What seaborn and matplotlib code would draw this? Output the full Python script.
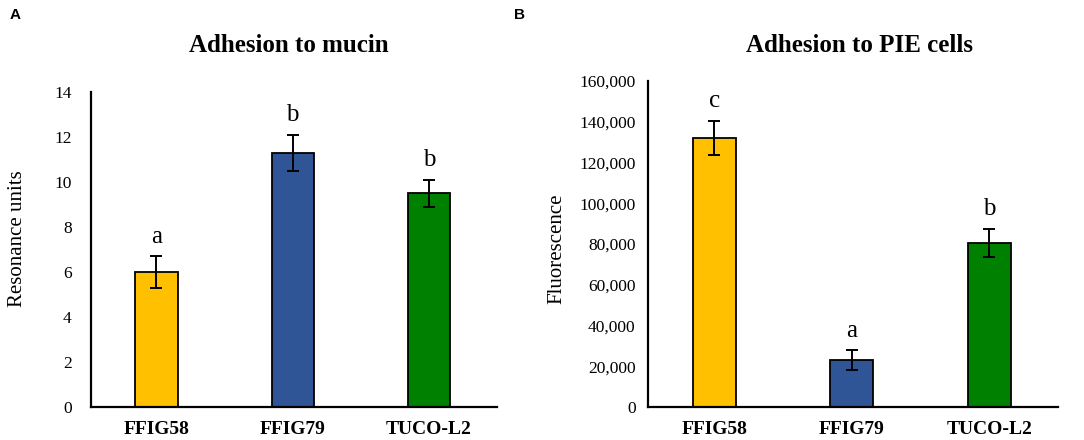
import pandas as pd
import matplotlib.pyplot as plt
import seaborn as sns

# data
strains = ['FFIG58', 'FFIG79', 'TUCO-L2']
mucin_mean = [6.0, 11.3, 9.5]
mucin_err = [0.7, 0.8, 0.6]
mucin_letters = ['a', 'b', 'b']
pie_mean = [132000, 23000, 80500]
pie_err = [8500, 4800, 7000]
pie_letters = ['c', 'a', 'b']
bar_colors = ['#FFC000', '#2F5597', '#008000']

sns.set_theme(style="white")
plt.rcParams['font.family'] = ['Liberation Serif', 'DejaVu Serif']
plt.rcParams['text.color'] = 'black'
plt.rcParams['axes.labelcolor'] = 'black'
plt.rcParams['xtick.color'] = 'black'
plt.rcParams['ytick.color'] = 'black'

fig = plt.figure(figsize=(10.84, 4.4), dpi=100)
ax_a = fig.add_axes([0.084, 0.075, 0.3745, 0.716])
ax_b = fig.add_axes([0.598, 0.075, 0.378, 0.741])


def draw_panel(ax, means, errs, letters, ymax, ystep, ylabel, fmt, ypad):
    df = pd.DataFrame({'strain': strains, 'value': means})
    sns.barplot(data=df, x='strain', y='value', hue='strain', palette=bar_colors,
                saturation=1, width=0.31, edgecolor='black', linewidth=1.3,
                legend=False, ax=ax)
    ax.errorbar(range(len(strains)), means, yerr=errs, fmt='none', ecolor='black',
                elinewidth=1.4, capsize=4, capthick=1.4)
    for i, (m, e, t) in enumerate(zip(means, errs, letters)):
        ax.annotate(t, (i, m + e), xytext=(0, 6), textcoords='offset points',
                    ha='center', va='bottom', fontsize=18)
    ax.set_ylim(0, ymax)
    ax.set_xlim(-0.48, 2.5)
    ticks = list(range(0, ymax + 1, ystep))
    ax.set_yticks(ticks)
    ax.set_yticklabels([fmt(v) for v in ticks], fontsize=12.5)
    ax.tick_params(axis='y', length=0, pad=ypad)
    ax.tick_params(axis='x', length=0, pad=10)
    for lab in ax.get_xticklabels():
        lab.set_fontweight('bold')
        lab.set_fontsize(14)
    ax.set_xlabel('')
    ax.set_ylabel(ylabel, fontsize=15)
    sns.despine(ax=ax)
    for side in ['left', 'bottom']:
        ax.spines[side].set_color('black')
        ax.spines[side].set_linewidth(1.6)


draw_panel(ax_a, mucin_mean, mucin_err, mucin_letters, 14, 2,
           'Resonance units', lambda v: f'{v}', 14)
draw_panel(ax_b, pie_mean, pie_err, pie_letters, 160000, 20000,
           'Fluorescence', lambda v: f'{v:,}', 9)
ax_a.yaxis.set_label_coords(-0.159, 0.533)
ax_b.yaxis.set_label_coords(-0.2, 0.485)

fig.text(289 / 1084, 1 - 45 / 440, 'Adhesion to mucin', fontsize=18,
         fontweight='bold', ha='center', va='center')
fig.text(860 / 1084, 1 - 45 / 440, 'Adhesion to PIE cells', fontsize=18,
         fontweight='bold', ha='center', va='center')

fig.text(0.009, 0.965, 'A', fontsize=11, fontweight='bold', family='Liberation Sans', va='center')
fig.text(0.474, 0.965, 'B', fontsize=11, fontweight='bold', family='Liberation Sans', va='center')

fig.savefig('out.png', dpi=100)
